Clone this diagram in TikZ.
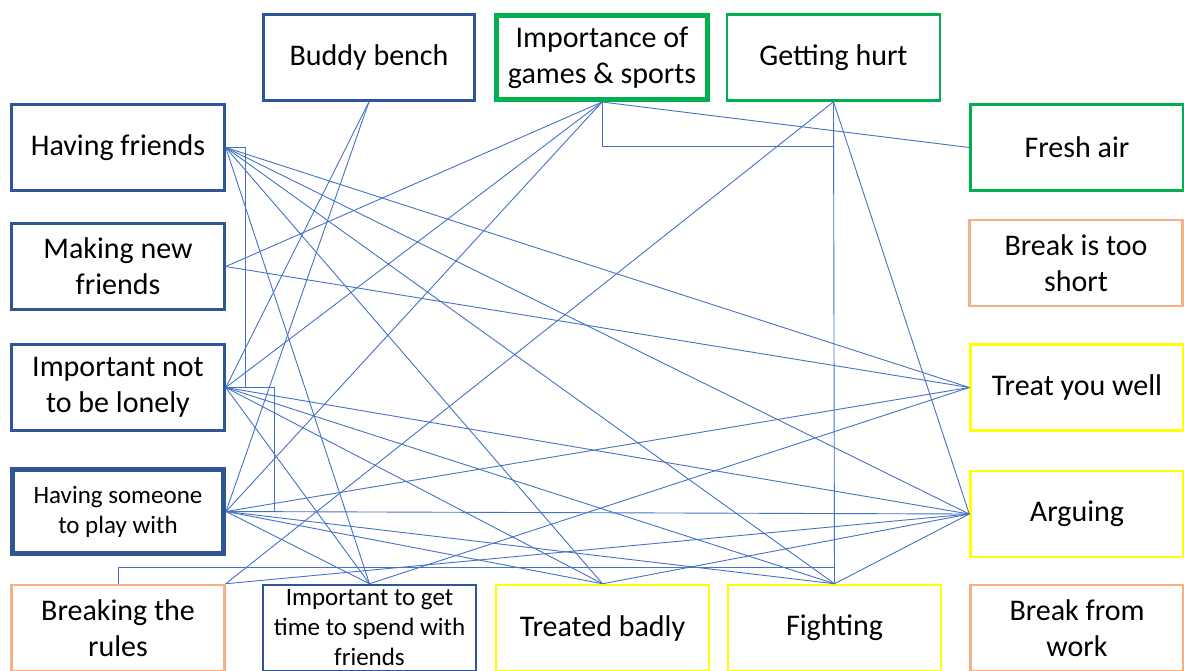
\documentclass[tikz,border=0pt]{standalone}
\usepackage{fontspec}
\setmainfont{Carlito}
\definecolor{peopleblue}{RGB}{47,85,151}
\definecolor{gamegreen}{RGB}{0,176,80}
\definecolor{breakorange}{RGB}{244,177,131}
\definecolor{fightyellow}{RGB}{255,255,0}
\definecolor{linkblue}{RGB}{68,114,196}
\begin{document}
\begin{tikzpicture}[x=1pt,y=-1pt]
\tikzstyle{card} = [rectangle, minimum width=213pt, minimum height=86pt, align=center, fill=white, line width=2.5pt, font=\fontsize{30}{36}\selectfont]
\tikzstyle{people} = [card, draw=peopleblue]
\tikzstyle{games} = [card, draw=gamegreen]
\tikzstyle{breaktime} = [card, draw=breakorange]
\tikzstyle{trouble} = [card, draw=fightyellow]
\tikzstyle{small} = [font=\fontsize{25}{30}\selectfont]
\tikzstyle{link} = [line width=0.9pt, draw=linkblue]

    \useasboundingbox (0,0) rectangle (1184,670);
    \clip (0,0) rectangle (1184,670);

    % left column
    \node (friends) at (118,147.5) [people] {Having friends};
    \node (newfriends) at (118,266.5) [people] {Making new\\friends};
    \node (lonely) at (118,387.5) [people] {Important not\\to be lonely};
    \node (someone) at (118,511.5) [people, small, line width=5pt, minimum width=211pt, minimum height=84pt] {Having someone\\to play with};
    \node (rules) at (118,628) [breaktime] {Breaking the\\rules};

    % top row
    \node (bench) at (369,57.5) [people, minimum width=211pt] {Buddy bench};
    \node (sports) at (602,57.5) [games, line width=5pt, minimum width=211pt, minimum height=84pt] {Importance of\\games \& sports};
    \node (hurt) at (833.5,57.5) [games] {Getting hurt};

    % bottom row
    \node (time) at (369.5,628) [people, small] {Important to get\\time to spend with\\friends};
    \node (badly) at (602.5,628) [trouble] {Treated badly};
    \node (fighting) at (834.5,628) [trouble] {Fighting};

    % right column
    \node (air) at (1077,147.5) [games] {Fresh air};
    \node (short) at (1076,263) [breaktime] {Break is too\\short};
    \node (well) at (1077,387.5) [trouble] {Treat you well};
    \node (arguing) at (1077,514) [trouble] {Arguing};
    \node (work) at (1077,628) [breaktime] {Break from\\work};

    % elbows
    \draw [link] (friends.east) -- ++(20,0) |- (lonely.east);
    \draw [link] (lonely.east) -- ++(49,0) |- (someone.east);
    \draw [link] (sports.south) -- ++(0,44) -| (hurt.south);
    \draw [link] (rules.north) -- ++(0,-16) -| (fighting.north);

    % straight links
    \draw [link] (friends.east) -- (well.west);
    \draw [link] (friends.east) -- (arguing.west);
    \draw [link] (friends.east) -- (fighting.north);
    \draw [link] (friends.east) -- (badly.north);
    \draw [link] (friends.east) -- (time.north);

    \draw [link] (newfriends.east) -- (sports.south);
    \draw [link] (newfriends.east) -- (well.west);

    \draw [link] (lonely.east) -- (bench.south);
    \draw [link] (lonely.east) -- (sports.south);
    \draw [link] (lonely.east) -- (arguing.west);
    \draw [link] (lonely.east) -- (fighting.north);
    \draw [link] (lonely.east) -- (badly.north);
    \draw [link] (lonely.east) -- (time.north);

    \draw [link] (someone.east) -- (bench.south);
    \draw [link] (someone.east) -- (sports.south);
    \draw [link] (someone.east) -- (well.west);
    \draw [link] (someone.east) -- (arguing.west);
    \draw [link] (someone.east) -- (fighting.north);
    \draw [link] (someone.east) -- (badly.north);
    \draw [link] (someone.east) -- (time.north);

    \draw [link] (rules.north east) -- (hurt.south);
    \draw [link] (rules.north east) -- (arguing.west);

    \draw [link] (time.north) -- (well.west);
    \draw [link] (badly.north) -- (arguing.west);
    \draw [link] (fighting.north) -- (arguing.west);
    \draw [link] (hurt.south) -- (arguing.west);
    \draw [link] (hurt.south) -- (fighting.north);
    \draw [link] (sports.south) -- (air.west);
\end{tikzpicture}
\end{document}
